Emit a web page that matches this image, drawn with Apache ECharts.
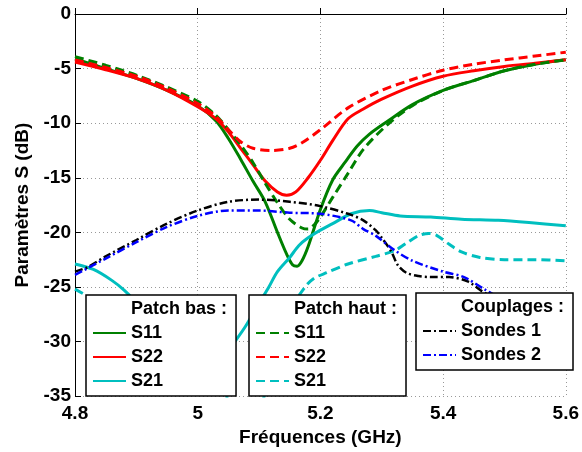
<!DOCTYPE html>
<html>
<head>
<meta charset="utf-8">
<script src="https://cdn.jsdelivr.net/npm/echarts@6/dist/echarts.min.js"></script>
<style>
html,body{margin:0;padding:0;background:#fff;}
#chart{width:582px;height:452px;}
</style>
</head>
<body>
<div id="chart"></div>
<script>
// ---- data (frequency in GHz, S-parameters in dB) ----
const xTicks = [4.8, 5.0, 5.2, 5.4, 5.6];
const yTicks = [0, -5, -10, -15, -20, -25, -30, -35];

const fS11bas = [4.80,4.85,4.90,4.95,5.00,5.03,5.05,5.07,5.09,5.11,5.13,5.145,5.155,5.162,5.17,5.18,5.20,5.22,5.24,5.26,5.28,5.31,5.35,5.40,5.45,5.50,5.55,5.60];
const vS11bas = [-4.1,-5.0,-5.9,-7.0,-8.4,-9.8,-11.4,-13.3,-15.3,-17.2,-20.0,-22.0,-23.0,-23.1,-22.6,-21.3,-17.9,-15.2,-13.6,-12.1,-11.0,-9.8,-8.3,-7.0,-6.1,-5.2,-4.6,-4.2];

const fS22bas = [4.80,4.85,4.90,4.95,5.00,5.03,5.05,5.07,5.09,5.11,5.13,5.145,5.16,5.18,5.20,5.22,5.245,5.27,5.30,5.35,5.40,5.45,5.50,5.55,5.60];
const vS22bas = [-4.4,-5.1,-5.9,-7.0,-8.5,-9.6,-10.8,-12.3,-13.8,-15.3,-16.3,-16.6,-16.3,-15.0,-13.4,-11.6,-9.6,-8.7,-7.8,-6.6,-5.7,-5.2,-4.8,-4.5,-4.2];

const fS21bas = [4.80,4.83,4.86,4.88,4.92,4.96,5.00,5.03,5.05,5.062,5.078,5.10,5.116,5.13,5.15,5.165,5.18,5.20,5.22,5.25,5.28,5.30,5.33,5.38,5.43,5.49,5.54,5.60];
const vS21bas = [-22.9,-23.4,-24.4,-25.3,-27.5,-29.5,-30.8,-31.2,-30.8,-29.9,-28.6,-26.5,-25.0,-23.6,-22.3,-21.2,-20.5,-19.8,-19.2,-18.3,-18.0,-18.2,-18.5,-18.6,-18.8,-18.9,-19.1,-19.4];

const fS11haut = [4.80,4.85,4.90,4.95,5.00,5.03,5.05,5.07,5.09,5.11,5.13,5.15,5.17,5.18,5.19,5.20,5.22,5.245,5.27,5.31,5.35,5.40,5.45,5.50,5.55,5.60];
const vS11haut = [-3.9,-4.7,-5.6,-6.7,-8.0,-9.3,-10.6,-12.0,-13.6,-15.5,-17.3,-18.8,-19.6,-19.7,-19.3,-18.6,-16.8,-14.6,-12.4,-10.1,-8.4,-7.0,-6.1,-5.2,-4.6,-4.2];

const fS22haut = [4.80,4.85,4.90,4.95,5.00,5.03,5.05,5.07,5.09,5.12,5.15,5.17,5.20,5.245,5.30,5.35,5.40,5.45,5.50,5.55,5.60];
const vS22haut = [-4.2,-4.9,-5.7,-6.8,-8.2,-9.4,-10.6,-11.7,-12.3,-12.5,-12.3,-11.8,-10.6,-8.6,-7.0,-6.0,-5.15,-4.6,-4.2,-3.85,-3.5];

const fS21haut = [4.80,4.85,4.90,4.95,5.00,5.04,5.06,5.09,5.13,5.15,5.175,5.19,5.21,5.245,5.29,5.32,5.34,5.36,5.377,5.39,5.41,5.43,5.46,5.50,5.55,5.60];
const vS21haut = [-25.2,-26.8,-28.5,-30.2,-32.0,-33.8,-37.0,-37.0,-30.0,-27.2,-25.0,-24.2,-23.7,-22.9,-22.2,-21.7,-21.0,-20.3,-20.1,-20.3,-21.1,-21.8,-22.3,-22.5,-22.5,-22.6];

const fSondes1 = [4.80,4.82,4.85,4.90,4.95,5.00,5.05,5.10,5.15,5.20,5.245,5.27,5.29,5.30,5.316,5.326,5.34,5.36,5.38,5.41,5.44,5.47,5.52,5.60];
const vSondes1 = [-23.6,-23.2,-22.2,-20.7,-19.2,-18.0,-17.2,-17.0,-17.2,-17.6,-18.3,-18.9,-19.8,-20.5,-21.8,-23.0,-23.7,-24.0,-24.1,-24.1,-24.5,-25.6,-26.5,-27.5];

const fSondes2 = [4.80,4.85,4.90,4.95,5.00,5.05,5.10,5.15,5.20,5.25,5.27,5.29,5.32,5.35,5.40,5.434,5.467,5.50,5.55,5.60];
const vSondes2 = [-23.9,-22.4,-20.9,-19.5,-18.5,-18.0,-18.0,-18.2,-18.3,-18.9,-19.7,-20.3,-21.6,-22.6,-23.6,-24.1,-25.2,-26.2,-27.0,-27.6];

// ---- helpers ----
const pair = (f, v) => f.map((x, i) => [x, v[i]]);
const GREEN = '#008000', RED = '#ff0000', CYAN = '#00bfbf', BLACK = '#000000', BLUE = '#0000ff';
const DASH = [9, 5], DASHDOT = [8, 3, 2, 3];

function line(name, f, v, color, type, width) {
  return {
    name, type: 'line', data: pair(f, v), symbol: 'none', smooth: 0.3,
    lineStyle: { color, width, type }, itemStyle: { color },
    z: 2
  };
}
function header(name) {
  return { name, type: 'line', data: [], symbol: 'none',
    lineStyle: { color: 'rgba(0,0,0,0)' }, itemStyle: { color: 'rgba(0,0,0,0)' } };
}

const series = [
  header('Patch bas :'), header('Patch haut :'), header('Couplages :'),
  line('S11', fS11bas, vS11bas, GREEN, 'solid', 3),
  line('S22', fS22bas, vS22bas, RED, 'solid', 3),
  line('S21', fS21bas, vS21bas, CYAN, 'solid', 3),
  line('S11 ', fS11haut, vS11haut, GREEN, DASH, 3),
  line('S22 ', fS22haut, vS22haut, RED, DASH, 3),
  line('S21 ', fS21haut, vS21haut, CYAN, DASH, 3),
  line('Sondes 1', fSondes1, vSondes1, BLACK, DASHDOT, 2.5),
  line('Sondes 2', fSondes2, vSondes2, BLUE, DASHDOT, 2.5)
];

const FONT = 'Liberation Sans';
function legend(left, top, names) {
  return {
    orient: 'vertical', left, top, data: names,
    itemWidth: 33, itemHeight: 14, itemGap: 6,
    padding: [5, 9, 6, 6],
    backgroundColor: '#fff', borderColor: '#000', borderWidth: 1.5, borderRadius: 0,
    selectedMode: false,
    itemStyle: { opacity: 0 },
    textStyle: { fontFamily: FONT, fontWeight: 'bold', fontSize: 18, color: '#000' },
    z: 10
  };
}

const chart = echarts.init(document.getElementById('chart'), null, { renderer: 'canvas' });
chart.setOption({
  animation: false,
  backgroundColor: '#fff',
  grid: { left: 75, right: 13, top: 14, bottom: 48, containLabel: false },
  xAxis: {
    type: 'value', min: xTicks[0], max: xTicks[xTicks.length - 1], interval: 0.2,
    name: 'Fréquences (GHz)', nameLocation: 'middle', nameGap: 24,
    nameTextStyle: { fontFamily: FONT, fontWeight: 'bold', fontSize: 19, color: '#000' },
    axisLine: { show: true, lineStyle: { color: '#000', width: 1 } },
    axisTick: { show: true, inside: true, length: 6, lineStyle: { color: '#000' } },
    axisLabel: { margin: 8, fontFamily: FONT, fontWeight: 'bold', fontSize: 19, color: '#000',
      formatter: v => String(+v.toFixed(1)) },
    splitLine: { show: true, lineStyle: { color: '#999', width: 1, type: [1, 3] } }
  },
  yAxis: {
    type: 'value', min: yTicks[yTicks.length - 1], max: yTicks[0], interval: 5,
    name: 'Paramètres S (dB)', nameLocation: 'middle', nameGap: 42,
    nameTextStyle: { fontFamily: FONT, fontWeight: 'bold', fontSize: 19, color: '#000' },
    axisLine: { show: true, lineStyle: { color: '#000', width: 1 } },
    axisTick: { show: true, inside: true, length: 6, lineStyle: { color: '#000' } },
    axisLabel: { margin: 4, fontFamily: FONT, fontWeight: 'bold', fontSize: 19, color: '#000',
      formatter: v => String(Math.round(v)) },
    splitLine: { show: true, lineStyle: { color: '#999', width: 1, type: [1, 3] } }
  },
  legend: [
    legend(86, 295, ['Patch bas :', 'S11', 'S22', 'S21']),
    legend(249, 295, ['Patch haut :', 'S11 ', 'S22 ', 'S21 ']),
    legend(416, 293, ['Couplages :', 'Sondes 1', 'Sondes 2'])
  ],
  series
});
</script>
</body>
</html>
